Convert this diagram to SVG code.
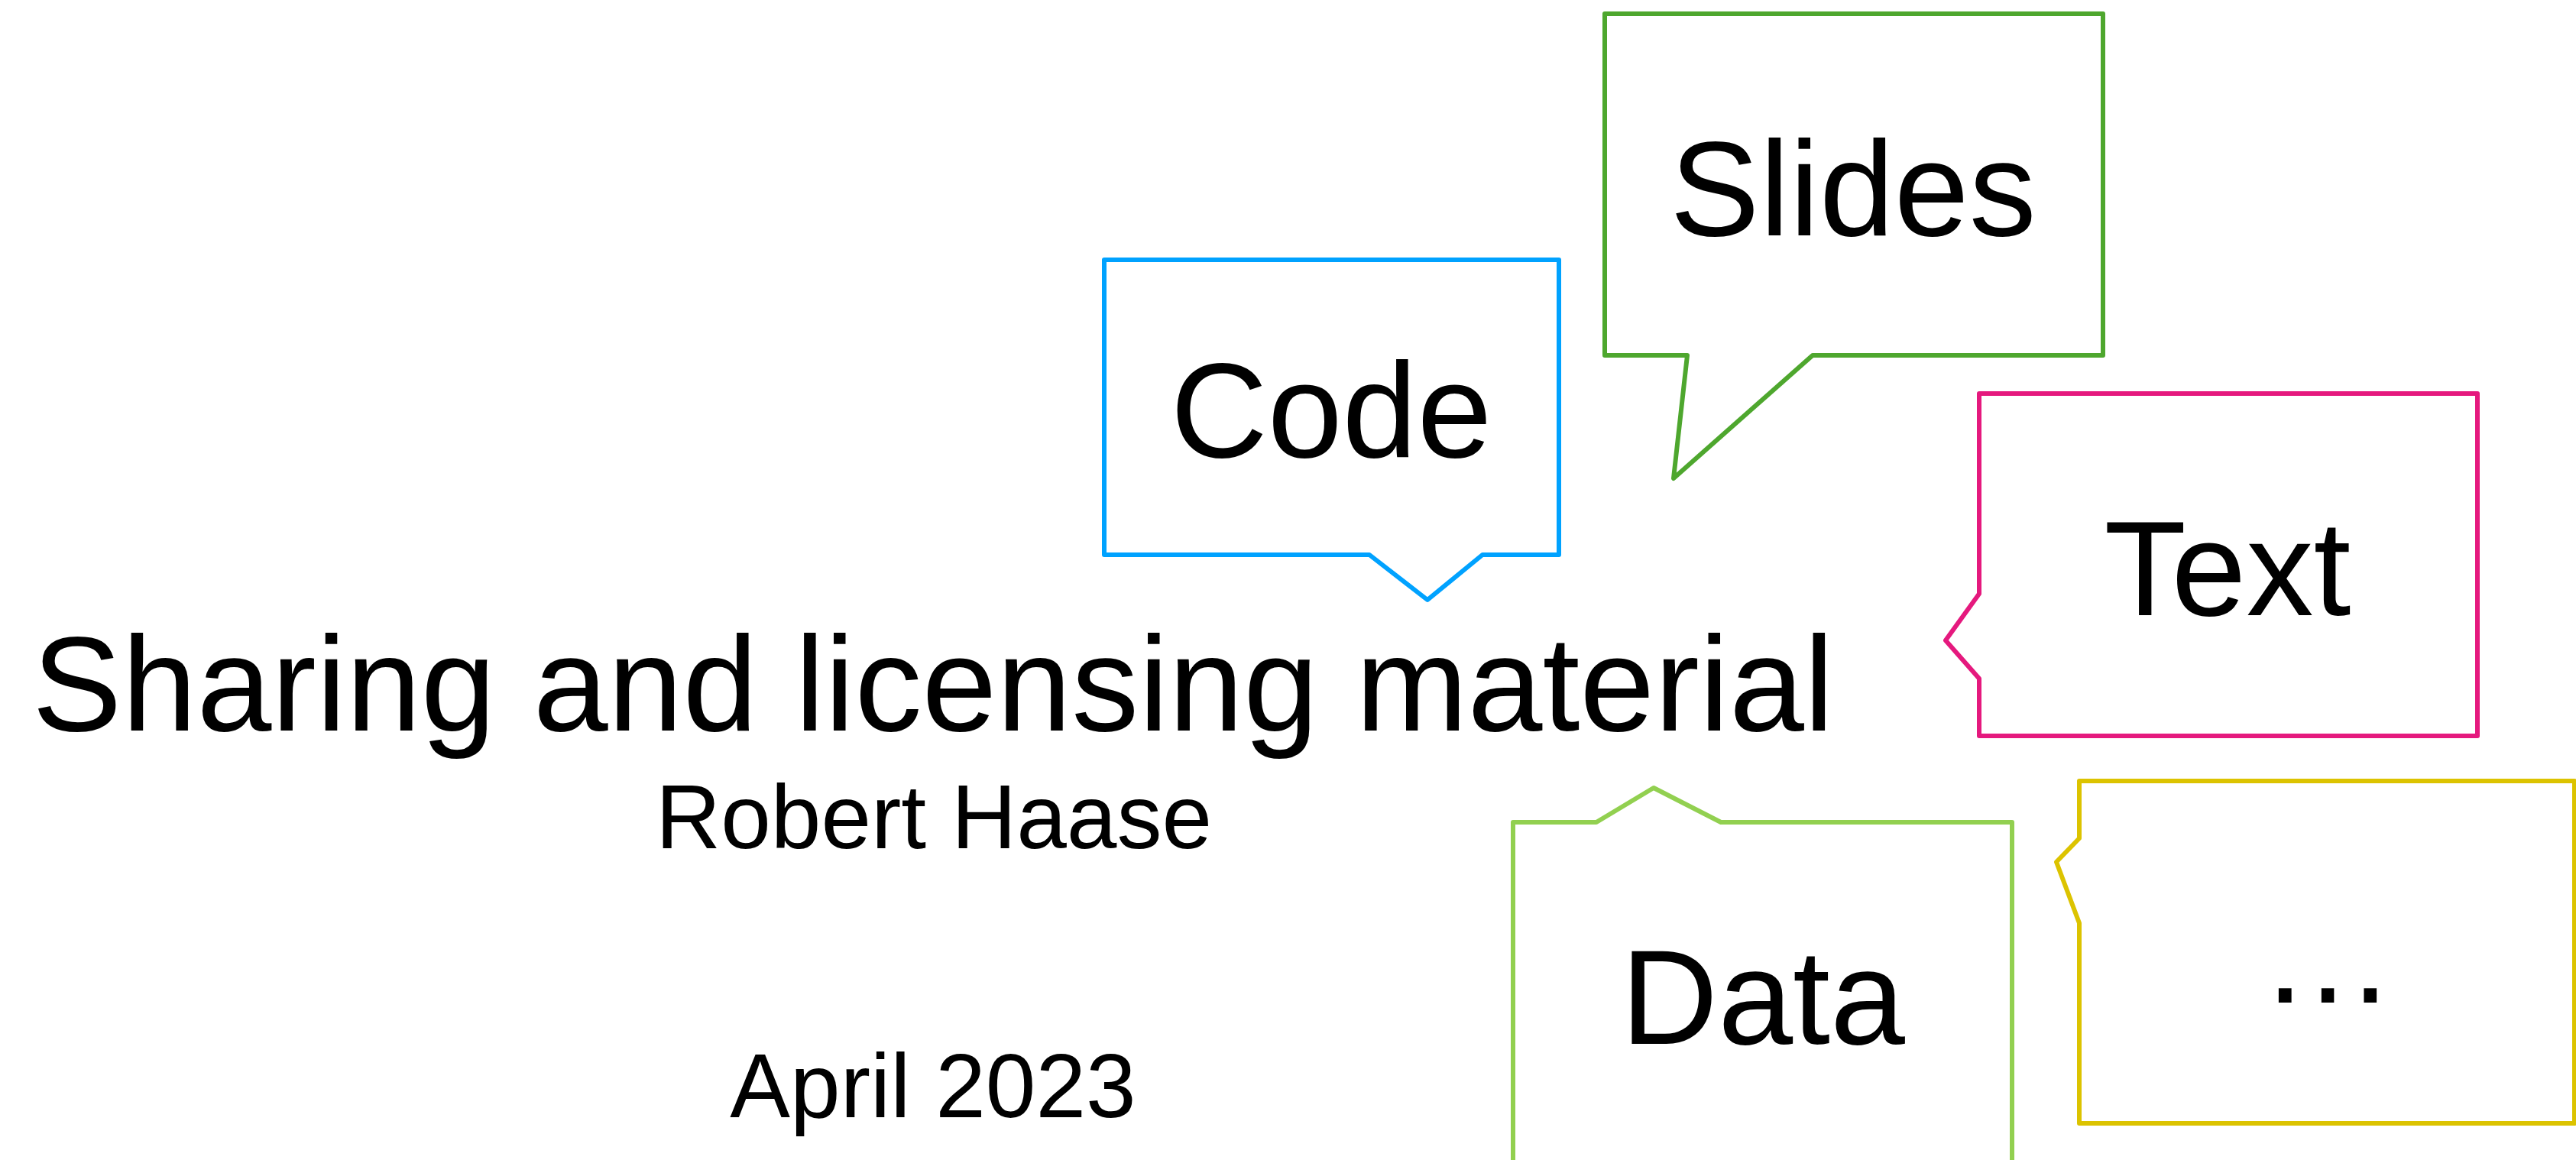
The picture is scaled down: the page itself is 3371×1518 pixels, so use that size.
<svg xmlns="http://www.w3.org/2000/svg" width="3371" height="1518" viewBox="0 0 3371 1518">
  <style>
    .bubble { fill: #FFFFFF; stroke-width: 6; stroke-linejoin: round; }
    .label { font-family: "Liberation Sans", Arial, sans-serif; font-size: 176px; fill: #000000; text-anchor: middle; }
    .sub { font-family: "Liberation Sans", Arial, sans-serif; font-size: 118px; fill: #000000; text-anchor: middle; }
  </style>
  <rect width="3371" height="1518" fill="#FFFFFF"/>

  <!-- Title block -->
  <g id="title">
    <text class="label" x="1221" y="956">Sharing and licensing material</text>
    <text class="sub" x="1222" y="1110">Robert Haase</text>
    <text class="sub" x="1221" y="1462">April 2023</text>
  </g>

  <!-- Speech bubbles -->
  <g id="code">
    <path class="bubble" stroke="#00A2FF" d="M1445,340 H2040 V726 H1940 L1868,785 L1792,726 H1445 Z"/>
    <text class="label" x="1742" y="598">Code</text>
  </g>

  <g id="slides">
    <path class="bubble" stroke="#4EA72E" d="M2100,18 H2752 V465 H2372 L2190,626 L2208,465 H2100 Z"/>
    <text class="label" x="2425" y="308">Slides</text>
  </g>

  <g id="text">
    <path class="bubble" stroke="#E5197E" d="M2590,515 H3242 V963 H2590 V888 L2546,838 L2590,777 Z"/>
    <text class="label" x="2915" y="805">Text</text>
  </g>

  <g id="data">
    <path class="bubble" stroke="#92D050" d="M1980,1540 V1076 H2089 L2164,1031 L2252,1076 H2633 V1540"/>
    <text class="label" x="2307" y="1366">Data</text>
  </g>

  <g id="more">
    <path class="bubble" stroke="#DCC300" d="M2721,1022 H3369 V1470 H2721 V1208 L2691,1128 L2721,1097 Z"/>
    <text class="label" x="3046" y="1312">…</text>
  </g>

  <g id="connectors"/>
</svg>
